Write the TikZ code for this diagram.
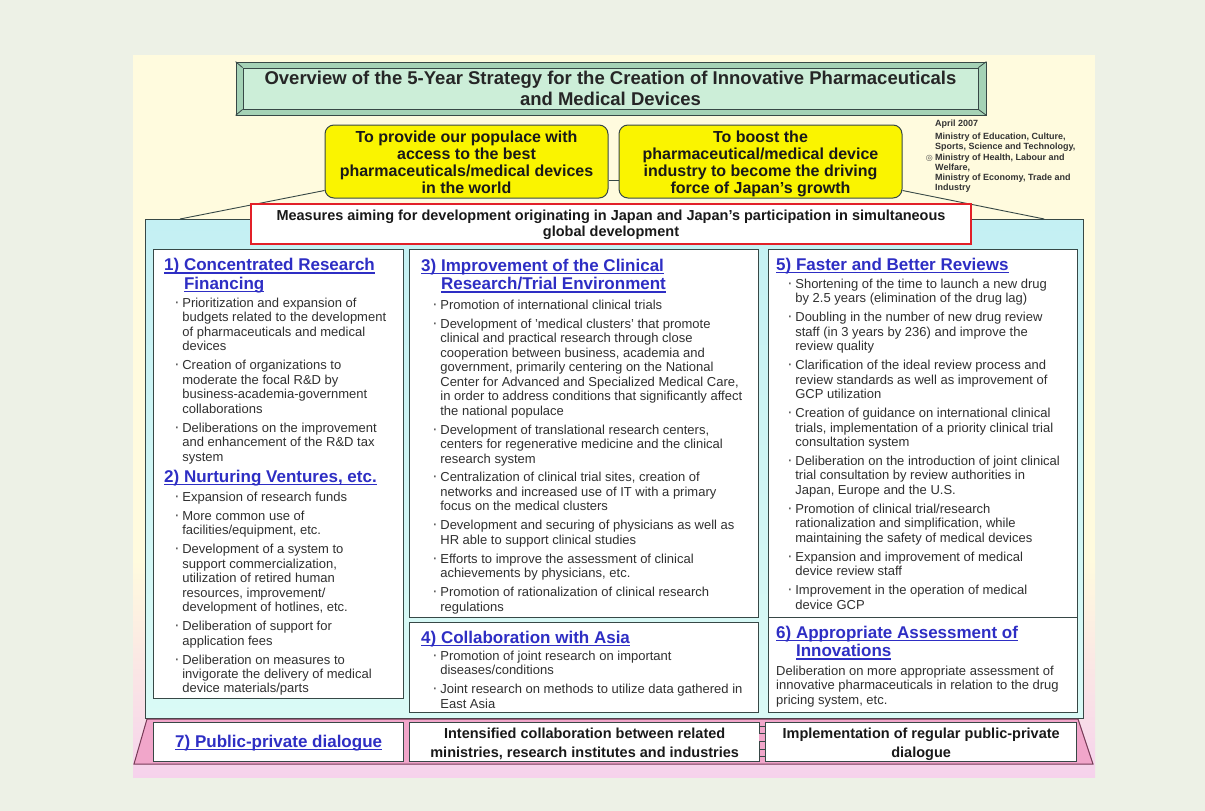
\documentclass[tikz,border=0pt]{standalone}
\usepackage{fontspec}
\setmainfont{Liberation Sans}
\newfontfamily\dejavu{DejaVu Sans}
\usetikzlibrary{positioning}

\definecolor{pagegreen}{RGB}{237,241,230}
\definecolor{sheetyellow}{RGB}{255,251,222}
\definecolor{sheetpink}{RGB}{246,210,236}
\definecolor{titlegreen}{RGB}{204,238,216}
\definecolor{bevelgreen}{RGB}{165,210,182}
\definecolor{framegray}{RGB}{55,72,70}
\definecolor{goalyellow}{RGB}{250,244,0}
\definecolor{measurered}{RGB}{226,32,40}
\definecolor{cyantop}{RGB}{196,240,243}
\definecolor{cyanbottom}{RGB}{218,250,246}
\definecolor{headblue}{RGB}{46,46,196}
\definecolor{textgray}{RGB}{48,48,48}
\definecolor{bulletgray}{RGB}{95,95,95}
\definecolor{bandpink}{RGB}{241,166,202}
\definecolor{banddark}{RGB}{118,58,86}

% blue heading underline
\newcommand{\hul}[1]{\setbox0\hbox{#1}\rlap{\rule[-3pt]{\wd0}{1.2pt}}\box0}
% list bullet
\newcommand{\bl}{\textcolor{bulletgray}{\fontsize{17}{14}\selectfont·}}
% rows of text, node base = first baseline
\newcommand{\txtrows}[2]{\begin{tabular}[t]{@{}#1@{}}#2\end{tabular}}
\newenvironment{blist}{\begin{tabular}[t]{@{}c@{\hspace{2.5pt}}l@{}}}{\end{tabular}}

\tikzset{
        txt/.style={inner sep=0pt, anchor=base},
        % Title banner
        node_bevel/.style={draw=framegray, line width=0.8pt, fill=bevelgreen, minimum width=750pt, minimum height=53pt},
        node_title/.style={draw=framegray, line width=0.8pt, fill=titlegreen, minimum width=735pt, minimum height=41pt},
        title_text/.style={txt, font=\fontsize{18.5}{21}\selectfont\bfseries, text=black!85},
        % Goal boxes
        node_goal/.style={draw=framegray, line width=1pt, fill=goalyellow, rounded corners=9pt, minimum width=283pt, minimum height=73pt},
        goal_text/.style={txt, font=\fontsize{16}{17}\selectfont\bfseries, text=black!90},
        % Measures box
        node_measure/.style={draw=measurered, line width=2pt, fill=white, minimum width=720pt, minimum height=40pt},
        measure_text/.style={txt, font=\fontsize{14.5}{16}\selectfont\bfseries, text=black!90},
        % Ministries
        note_text/.style={txt, anchor=base west, font=\fontsize{9}{10.2}\selectfont\bfseries, text=black!80},
        % Cyan panel and white boxes
        node_panel/.style={draw=framegray, line width=1.2pt, top color=cyantop, bottom color=cyanbottom, minimum width=938pt, minimum height=499pt, anchor=north west},
        box_white/.style={draw=framegray, line width=1.3pt, fill=white, anchor=north west, inner sep=0pt},
        head_blue/.style={txt, anchor=base west, font=\fontsize{17}{18.5}\selectfont\bfseries, text=headblue},
        list_body/.style={txt, anchor=base west, font=\fontsize{13}{14.45}\selectfont, text=textgray},
        % Dialogue band
        band_text/.style={txt, font=\fontsize{14.5}{19.5}\selectfont\bfseries, text=black!90},
        link_line/.style={draw=framegray, line width=0.9pt}
}

\begin{document}
\begin{tikzpicture}[x=1pt, y=-1pt]
    \useasboundingbox[fill=pagegreen] (0,0) rectangle (1205,811);
    \fill[sheetyellow] (133,55) rectangle (1095,777);
    \shade[top color=sheetyellow, bottom color=sheetpink] (133,560) rectangle (1095,777);

    % Title banner
    \node[node_bevel] (bevel) at (611,88.5) {};
    \node[node_title] (title) at (610.5,88.5) {};
    \foreach \c in {north west, north east, south west, south east}
        \draw[framegray, line width=0.8pt] (bevel.\c) -- (title.\c);
    \node[title_text] (title_txt) at ([yshift=-16.5pt]title.north)
        {\txtrows{c}{Overview of the 5-Year Strategy for the Creation of Innovative Pharmaceuticals\\and Medical Devices}};

    % Panel behind the measures
    \node[node_panel] (panel) at (145,219) {};

    % Goals
    \node[node_goal] (goal_pop) at (466.5,161.5) {};
    \node[node_goal, right=10pt of goal_pop] (goal_ind) {};
    \node[goal_text] (goal_pop_txt) at ([yshift=-17.5pt]goal_pop.north)
        {\txtrows{c}{To provide our populace with\\access to the best\\pharmaceuticals/medical devices\\in the world}};
    \node[goal_text] (goal_ind_txt) at ([yshift=-17.5pt]goal_ind.north)
        {\txtrows{c}{To boost the\\pharmaceutical/medical device\\industry to become the driving\\force of Japan's growth}};
    \coordinate (link) at (0,180);
    \draw[link_line] (goal_pop.east |- link) -- (goal_ind.west |- link);
    \draw[link_line] ([yshift=8pt]goal_pop.south west) -- ([xshift=35pt]panel.north west);
    \draw[link_line] ([yshift=8pt]goal_ind.south east) -- ([xshift=-40pt]panel.north east);

    % Ministries
    \node[note_text] (note) at (935,126)
        {\txtrows{l}{April 2007\\[3.5pt]Ministry of Education, Culture,\\Sports, Science and Technology,\\Ministry of Health, Labour and\\Welfare,\\Ministry of Economy, Trade and\\Industry}};
    \node[txt, anchor=base east, font=\dejavu\fontsize{8}{8}\selectfont, text=black!70] (mark)
        at ([shift={(-2,34.1)}]note.base west) {◎};

    % Measures
    \node[node_measure] (measure) at (611,224) {};
    \node[measure_text] (measure_txt) at ([yshift=-17.5pt]measure.north)
        {\txtrows{c}{Measures aiming for development originating in Japan and Japan's participation in simultaneous\\global development}};

    % White boxes
    \node[box_white, minimum width=250pt, minimum height=449pt] (box_fin) at (153,249) {};
    \node[box_white, minimum width=349pt, minimum height=368pt] (box_env) at (409,249) {};
    \node[box_white, minimum width=349pt, minimum height=90pt] (box_asia) at (409,622) {};
    \node[box_white, minimum width=309pt, minimum height=368pt] (box_rev) at (768,249) {};
    \node[box_white, minimum width=309pt, minimum height=95pt] (box_price) at (768,617) {};

    % 1) and 2)
    \node[head_blue] (head_fin) at ([shift={(11,21.5)}]box_fin.north west)
        {\txtrows{l}{\hul{1)~Concentrated Research}\\\phantom{1)~}\hul{Financing}}};
    \node[list_body] (list_fin) at ([shift={(21,58.5)}]box_fin.north west) {\begin{blist}
        \bl & Prioritization and expansion of\\
            & budgets related to the development\\
            & of pharmaceuticals and medical\\
            & devices\\[4.5pt]
        \bl & Creation of organizations to\\
            & moderate the focal R\&D by\\
            & business-academia-government\\
            & collaborations\\[4.5pt]
        \bl & Deliberations on the improvement\\
            & and enhancement of the R\&D tax\\
            & system
    \end{blist}};
    \node[head_blue] (head_vent) at ([shift={(11,233)}]box_fin.north west)
        {\hul{2)~Nurturing Ventures, etc.}};
    \node[list_body] (list_vent) at ([shift={(21,252.5)}]box_fin.north west) {\begin{blist}
        \bl & Expansion of research funds\\[4.5pt]
        \bl & More common use of\\
            & facilities/equipment, etc.\\[4.5pt]
        \bl & Development of a system to\\
            & support commercialization,\\
            & utilization of retired human\\
            & resources, improvement/\\
            & development of hotlines, etc.\\[4.5pt]
        \bl & Deliberation of support for\\
            & application fees\\[4.5pt]
        \bl & Deliberation on measures to\\
            & invigorate the delivery of medical\\
            & device materials/parts
    \end{blist}};

    % 3) and 4)
    \node[head_blue] (head_env) at ([shift={(12,22)}]box_env.north west)
        {\txtrows{l}{\hul{3)~Improvement of the Clinical}\\\phantom{3)~}\hul{Research/Trial Environment}}};
    \node[list_body] (list_env) at ([shift={(23,60.5)}]box_env.north west) {\begin{blist}
        \bl & Promotion of international clinical trials\\[4.5pt]
        \bl & Development of 'medical clusters' that promote\\
            & clinical and practical research through close\\
            & cooperation between business, academia and\\
            & government, primarily centering on the National\\
            & Center for Advanced and Specialized Medical Care,\\
            & in order to address conditions that significantly affect\\
            & the national populace\\[4.5pt]
        \bl & Development of translational research centers,\\
            & centers for regenerative medicine and the clinical\\
            & research system\\[4.5pt]
        \bl & Centralization of clinical trial sites, creation of\\
            & networks and increased use of IT with a primary\\
            & focus on the medical clusters\\[4.5pt]
        \bl & Development and securing of physicians as well as\\
            & HR able to support clinical studies\\[4.5pt]
        \bl & Efforts to improve the assessment of clinical\\
            & achievements by physicians, etc.\\[4.5pt]
        \bl & Promotion of rationalization of clinical research\\
            & regulations
    \end{blist}};
    \node[head_blue] (head_asia) at ([shift={(12,21)}]box_asia.north west)
        {\hul{4)~Collaboration with Asia}};
    \node[list_body] (list_asia) at ([shift={(23,38.5)}]box_asia.north west) {\begin{blist}
        \bl & Promotion of joint research on important\\
            & diseases/conditions\\[4.5pt]
        \bl & Joint research on methods to utilize data gathered in\\
            & East Asia
    \end{blist}};

    % 5) and 6)
    \node[head_blue] (head_rev) at ([shift={(8,21)}]box_rev.north west)
        {\hul{5)~Faster and Better Reviews}};
    \node[list_body] (list_rev) at ([shift={(19,39.5)}]box_rev.north west) {\begin{blist}
        \bl & Shortening of the time to launch a new drug\\
            & by 2.5 years (elimination of the drug lag)\\[4.5pt]
        \bl & Doubling in the number of new drug review\\
            & staff (in 3 years by 236) and improve the\\
            & review quality\\[4.5pt]
        \bl & Clarification of the ideal review process and\\
            & review standards as well as improvement of\\
            & GCP utilization\\[4.5pt]
        \bl & Creation of guidance on international clinical\\
            & trials, implementation of a priority clinical trial\\
            & consultation system\\[4.5pt]
        \bl & Deliberation on the introduction of joint clinical\\
            & trial consultation by review authorities in\\
            & Japan, Europe and the U.S.\\[4.5pt]
        \bl & Promotion of clinical trial/research\\
            & rationalization and simplification, while\\
            & maintaining the safety of medical devices\\[4.5pt]
        \bl & Expansion and improvement of medical\\
            & device review staff\\[4.5pt]
        \bl & Improvement in the operation of medical\\
            & device GCP
    \end{blist}};
    \node[head_blue] (head_price) at ([shift={(8,21)}]box_price.north west)
        {\txtrows{l}{\hul{6)~Appropriate Assessment of}\\\phantom{6)~}\hul{Innovations}}};
    \node[list_body] (text_price) at ([shift={(8,58.5)}]box_price.north west)
        {\txtrows{l}{Deliberation on more appropriate assessment of\\innovative pharmaceuticals in relation to the drug\\pricing system, etc.}};

    % Dialogue band
    \draw[fill=bandpink, draw=banddark, line width=1pt] (147,719) -- (1078,719) -- (1093,764) -- (134,764) -- cycle;
    \node[box_white, minimum width=250pt, minimum height=39pt] (box_dial) at (153,722) {};
    \node[box_white, minimum width=350pt, minimum height=39pt] (box_collab) at (409,722) {};
    \node[box_white, minimum width=311pt, minimum height=39pt] (box_regular) at (765,722) {};
    \fill[bandpink] (759,733) rectangle (765,741);
    \foreach \y in {726,733,741,749,756}
        \draw[framegray, line width=0.8pt] (759,\y) -- (765,\y);
    \node[head_blue, anchor=base] (dial_txt) at ([yshift=-25pt]box_dial.north)
        {\hul{7)~Public-private dialogue}};
    \node[band_text] (collab_txt) at ([yshift=-16pt]box_collab.north)
        {\txtrows{c}{Intensified collaboration between related\\ministries, research institutes and industries}};
    \node[band_text] (regular_txt) at ([yshift=-16pt]box_regular.north)
        {\txtrows{c}{Implementation of regular public-private\\dialogue}};
\end{tikzpicture}
\end{document}
